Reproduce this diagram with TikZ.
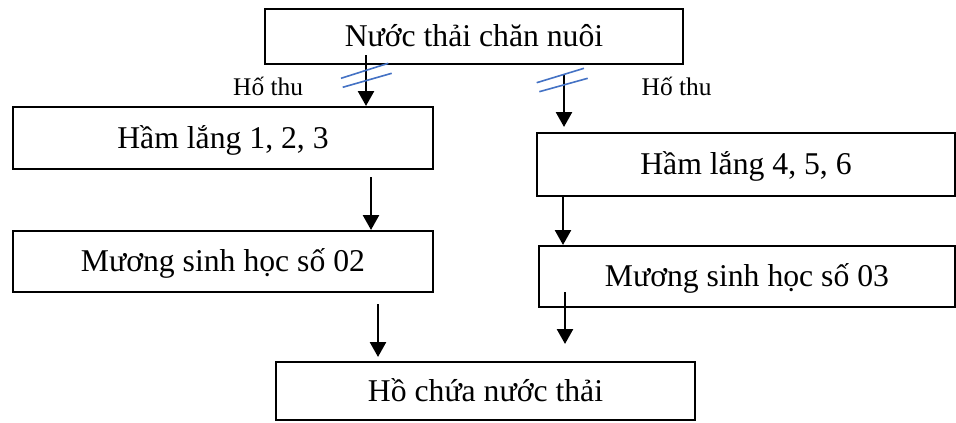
\documentclass[tikz,border=0pt]{standalone}
\usepackage{fontspec}
\setmainfont{Liberation Serif}
\usetikzlibrary{arrows.meta}
\begin{document}
\begin{tikzpicture}[x=1pt,y=-1pt,
  stage/.style={draw=black, line width=2pt, rectangle, inner sep=0pt,
    text height=21pt, text depth=1pt,
    font=\fontsize{31.7}{36}\selectfont},
  flow/.style={line width=2.6pt, -{Triangle[width=16pt,length=15pt]}},
  pitlabel/.style={draw=none, inner sep=0pt, anchor=base west,
    font=\fontsize{25.4}{30}\selectfont},
  slash/.style={draw={rgb,255:red,68;green,114;blue,196}, line width=1.6pt}]
\useasboundingbox (0,0) rectangle (956,423);

% process stages
\node[stage, minimum width=418pt, minimum height=55pt] (top) at (474,36.5) {Nước thải chăn nuôi};
\node[stage, minimum width=420pt, minimum height=62pt] (h1) at (223,138) {Hầm lắng 1, 2, 3};
\node[stage, minimum width=420pt, minimum height=61pt] (m2) at (223,261.5) {Mương sinh học số 02};
\node[stage, minimum width=418pt, minimum height=63pt] (h2) at (746,164.5) {Hầm lắng 4, 5, 6};
\node[stage, minimum width=416pt, minimum height=61pt] (m3) at (747,276.5) {Mương sinh học số 03};
\node[stage, minimum width=419pt, minimum height=58pt] (bot) at (485.5,391) {Hồ chứa nước thải};

% collection pit labels
\node[pitlabel] (p1) at (233,95) {Hố thu};
\node[pitlabel] (p2) at (641.5,95) {Hố thu};

% arrow origins
\coordinate (a1) at (366,55);
\coordinate (a2) at (564,75);
\coordinate (a3) at (371,177);
\coordinate (a4) at (563,196);
\coordinate (a5) at (378,304);
\coordinate (a6) at (565,292);

\draw[flow] (a1) -- (a1 |- h1.north);
\draw[flow, shorten >=5pt] (a2) -- (a2 |- h2.north);
\draw[flow] (a3) -- (a3 |- m2.north);
\draw[flow] (a4) -- (a4 |- m3.north);
\draw[flow, shorten >=4pt] (a5) -- (a5 |- bot.north);
\draw[flow, shorten >=17pt] (a6) -- (a6 |- bot.north);

% break marks on the pit lines
\coordinate (s1a) at (341,78.3);  \coordinate (s1b) at (388.3,63.3);
\coordinate (s1c) at (342.7,87.3); \coordinate (s1d) at (391.7,73.3);
\coordinate (s2a) at (536.7,82.7); \coordinate (s2b) at (584,68.3);
\coordinate (s2c) at (539.3,91.7); \coordinate (s2d) at (587.7,78.3);
\draw[slash] (s1a) -- (s1b);
\draw[slash] (s1c) -- (s1d);
\draw[slash] (s2a) -- (s2b);
\draw[slash] (s2c) -- (s2d);
\end{tikzpicture}
\end{document}
